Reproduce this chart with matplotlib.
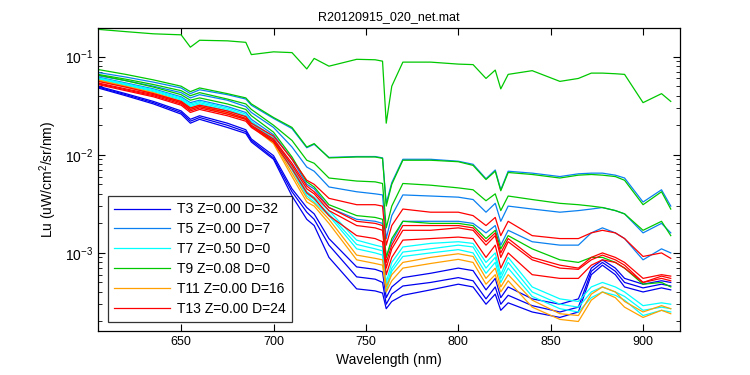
import numpy as np
import matplotlib
matplotlib.use("Agg")
import matplotlib.pyplot as plt

plt.rcParams['font.family'] = ['Liberation Sans', 'DejaVu Sans']
plt.rcParams['mathtext.fontset'] = 'custom'
plt.rcParams['mathtext.rm'] = 'Liberation Sans'

# wavelength grid (nm)
wl = [605, 620, 635, 650, 655, 660, 675, 685, 688, 700, 710, 718, 722, 730, 745,
      755, 759, 761, 764, 770, 785, 800, 808, 815, 820, 823, 827, 840, 855, 865,
      872, 878, 885, 890, 900, 910, 915]

# T3 (blue)
t3_a = [0.05, 0.042, 0.035, 0.028, 0.023, 0.025, 0.021, 0.018, 0.0145, 0.0098, 0.0045, 0.0029, 0.0025, 0.0014, 0.00072,
        0.00068, 0.00064, 0.00035, 0.00045, 0.00056, 0.00062, 0.0007, 0.00066, 0.00042, 0.00055, 0.00035, 0.00045, 0.00034, 0.0003, 0.00034,
        0.0007, 0.00085, 0.0007, 0.00055, 0.00048, 0.00052, 0.0005]
t3_b = [0.049, 0.041, 0.034, 0.027, 0.022, 0.024, 0.02, 0.0172, 0.014, 0.0093, 0.0042, 0.0026, 0.0022, 0.0012, 0.00057,
        0.00054, 0.0005, 0.0003, 0.00038, 0.00046, 0.0005, 0.00056, 0.00052, 0.00034, 0.00045, 0.0003, 0.00037, 0.00029, 0.00025, 0.00028,
        0.00065, 0.0008, 0.00065, 0.0005, 0.00044, 0.00048, 0.00046]
t3_c = [0.048, 0.04, 0.033, 0.026, 0.021, 0.023, 0.019, 0.0165, 0.0135, 0.009, 0.0038, 0.0022, 0.0019, 0.0009, 0.00043,
        0.00041, 0.00039, 0.00027, 0.00032, 0.00037, 0.00042, 0.00048, 0.00045, 0.0003, 0.00038, 0.00026, 0.00031, 0.00025, 0.00022, 0.00025,
        0.0006, 0.00075, 0.0006, 0.00045, 0.0004, 0.00044, 0.00042]

# T5 (light blue)
t5_a = [0.069, 0.062, 0.055, 0.048, 0.042, 0.046, 0.041, 0.037, 0.032, 0.0235, 0.0185, 0.0118, 0.0128, 0.0094, 0.0096,
        0.0096, 0.0093, 0.0032, 0.0052, 0.009, 0.009, 0.0086, 0.008, 0.0057, 0.007, 0.0044, 0.0068, 0.0065, 0.006, 0.0064,
        0.0065, 0.0065, 0.0062, 0.0058, 0.0033, 0.0044, 0.003]
t5_b = [0.064, 0.057, 0.05, 0.043, 0.038, 0.041, 0.036, 0.031, 0.027, 0.019, 0.012, 0.0075, 0.0068, 0.0047, 0.0042,
        0.004, 0.0039, 0.0014, 0.0024, 0.0039, 0.0038, 0.0037, 0.0035, 0.0026, 0.0032, 0.0021, 0.003, 0.0028, 0.0026, 0.0027,
        0.0028, 0.0029, 0.0027, 0.0025, 0.0016, 0.002, 0.0016]
t5_c = [0.062, 0.054, 0.047, 0.039, 0.034, 0.036, 0.031, 0.027, 0.023, 0.016, 0.009, 0.005, 0.0045, 0.0029, 0.0022,
        0.0021, 0.002, 0.0009, 0.0013, 0.0021, 0.0021, 0.0021, 0.002, 0.0016, 0.0019, 0.0012, 0.0017, 0.0013, 0.0012, 0.0012,
        0.0016, 0.0018, 0.0016, 0.0014, 0.00085, 0.0011, 0.001]

# T7 (cyan)
t7_a = [0.061, 0.053, 0.046, 0.038, 0.033, 0.035, 0.03, 0.026, 0.022, 0.015, 0.0075, 0.0042, 0.0037, 0.0027, 0.00135,
        0.0012, 0.00115, 0.0005, 0.0008, 0.00115, 0.00125, 0.0013, 0.00125, 0.0008, 0.001, 0.0006, 0.0009, 0.00045, 0.00034, 0.00032,
        0.00045, 0.0005, 0.00045, 0.0004, 0.00029, 0.00031, 0.0003]
t7_b = [0.06, 0.052, 0.045, 0.037, 0.032, 0.034, 0.029, 0.025, 0.0215, 0.0145, 0.0072, 0.004, 0.0035, 0.0025, 0.00122,
        0.0011, 0.00105, 0.00045, 0.0007, 0.00102, 0.0011, 0.0012, 0.00115, 0.0007, 0.0009, 0.00055, 0.0008, 0.0004, 0.0003, 0.00028,
        0.0004, 0.00045, 0.0004, 0.00036, 0.00026, 0.00028, 0.00027]
t7_c = [0.059, 0.051, 0.044, 0.036, 0.031, 0.033, 0.028, 0.0245, 0.021, 0.014, 0.007, 0.0038, 0.0033, 0.0024, 0.0011,
        0.001, 0.00095, 0.0004, 0.00065, 0.00092, 0.001, 0.00108, 0.001, 0.00062, 0.0008, 0.0005, 0.0007, 0.00036, 0.00027, 0.00025,
        0.00035, 0.0004, 0.00037, 0.00033, 0.00023, 0.00026, 0.00025]

# T9 (green)
t9_a = [0.19, 0.18, 0.171, 0.167, 0.125, 0.147, 0.145, 0.14, 0.105, 0.112, 0.11, 0.075, 0.096, 0.08, 0.094,
        0.093, 0.09, 0.021, 0.05, 0.088, 0.088, 0.084, 0.083, 0.06, 0.073, 0.047, 0.066, 0.072, 0.056, 0.06,
        0.068, 0.068, 0.067, 0.066, 0.034, 0.042, 0.035]
t9_b = [0.074, 0.066, 0.058, 0.05, 0.044, 0.048, 0.042, 0.038, 0.033, 0.024, 0.019, 0.012, 0.013, 0.0093, 0.0095,
        0.0095, 0.0092, 0.003, 0.005, 0.0088, 0.0088, 0.0085, 0.0078, 0.0056, 0.0068, 0.0043, 0.0066, 0.0063, 0.0058, 0.0062,
        0.0063, 0.0062, 0.006, 0.0055, 0.0031, 0.0042, 0.0028]
t9_c = [0.066, 0.059, 0.052, 0.045, 0.04, 0.043, 0.037, 0.033, 0.029, 0.02, 0.014, 0.0088, 0.0082, 0.0058, 0.0054,
        0.0053, 0.0051, 0.0018, 0.003, 0.0051, 0.0049, 0.0046, 0.0044, 0.0034, 0.004, 0.0027, 0.0038, 0.0035, 0.0032, 0.0031,
        0.003, 0.0029, 0.0027, 0.0025, 0.0017, 0.0021, 0.0015]
t9_d = [0.065, 0.057, 0.049, 0.041, 0.036, 0.038, 0.033, 0.029, 0.025, 0.017, 0.0095, 0.0053, 0.0047, 0.0031, 0.0024,
        0.0023, 0.0022, 0.0009, 0.0014, 0.0021, 0.002, 0.002, 0.0019, 0.0014, 0.0017, 0.0011, 0.0015, 0.0011, 0.00085, 0.0008,
        0.0009, 0.0009, 0.0008, 0.0007, 0.00048, 0.0005, 0.00045]

# T11 (orange)
t11_a = [0.058, 0.05, 0.043, 0.035, 0.03, 0.032, 0.027, 0.0235, 0.02, 0.0135, 0.0065, 0.0036, 0.0032, 0.0022, 0.00095,
         0.00088, 0.00085, 0.00045, 0.0006, 0.0008, 0.0009, 0.00098, 0.00092, 0.00055, 0.0007, 0.00045, 0.0006, 0.00033, 0.00024, 0.00023,
         0.00038, 0.00045, 0.0004, 0.00032, 0.00025, 0.00029, 0.00027]
t11_b = [0.057, 0.049, 0.042, 0.034, 0.029, 0.031, 0.026, 0.0228, 0.0195, 0.013, 0.006, 0.0033, 0.003, 0.002, 0.00085,
         0.00078, 0.00075, 0.0004, 0.00052, 0.0007, 0.00078, 0.00086, 0.0008, 0.00048, 0.0006, 0.0004, 0.00052, 0.00028, 0.00021, 0.0002,
         0.00033, 0.0004, 0.00035, 0.00028, 0.00022, 0.00026, 0.00024]

# T13 (red)
t13_a = [0.056, 0.049, 0.042, 0.035, 0.03, 0.032, 0.028, 0.0245, 0.021, 0.0155, 0.009, 0.0055, 0.005, 0.0036, 0.0031,
         0.0031, 0.003, 0.0012, 0.0019, 0.0028, 0.0026, 0.0026, 0.0024, 0.0019, 0.0023, 0.0015, 0.0021, 0.0015, 0.0014, 0.0014,
         0.0016, 0.0017, 0.0016, 0.0014, 0.00092, 0.001, 0.00088]
t13_b = [0.054, 0.047, 0.041, 0.034, 0.029, 0.031, 0.027, 0.0235, 0.02, 0.0145, 0.0082, 0.0048, 0.0042, 0.0029, 0.0021,
         0.002, 0.0019, 0.0008, 0.0012, 0.0019, 0.0019, 0.0019, 0.0018, 0.0013, 0.0016, 0.001, 0.0014, 0.0009, 0.00075, 0.0007,
         0.0009, 0.001, 0.0009, 0.0008, 0.00055, 0.0006, 0.00058]
t13_c = [0.053, 0.046, 0.04, 0.033, 0.028, 0.03, 0.026, 0.023, 0.0195, 0.014, 0.0078, 0.0045, 0.004, 0.0027, 0.0019,
         0.0018, 0.0017, 0.0007, 0.0011, 0.0017, 0.0017, 0.0018, 0.0017, 0.0012, 0.0015, 0.0009, 0.0013, 0.00085, 0.0007, 0.00068,
         0.00085, 0.00095, 0.00085, 0.00075, 0.0005, 0.00058, 0.00055]
t13_d = [0.052, 0.045, 0.039, 0.032, 0.027, 0.029, 0.025, 0.022, 0.019, 0.0135, 0.0072, 0.0041, 0.0036, 0.0024, 0.0015,
         0.0014, 0.0013, 0.0006, 0.0009, 0.00135, 0.0014, 0.00145, 0.0014, 0.0009, 0.0012, 0.0007, 0.001, 0.0006, 0.00055, 0.00055,
         0.00075, 0.00085, 0.0008, 0.0007, 0.0005, 0.00055, 0.00052]

labels = ['T3 Z=0.00 D=32', 'T5 Z=0.00 D=7', 'T7 Z=0.50 D=0',
          'T9 Z=0.08 D=0', 'T11 Z=0.00 D=16', 'T13 Z=0.00 D=24']
colors = ['#0000f0', '#0a80f0', '#00ffff', '#00c800', '#ffa000', '#ff0000']
groups = [[t3_a, t3_b, t3_c], [t5_a, t5_b, t5_c], [t7_a, t7_b, t7_c],
          [t9_a, t9_b, t9_c, t9_d], [t11_a, t11_b], [t13_a, t13_b, t13_c, t13_d]]

fig = plt.figure(figsize=(7.5, 3.75), dpi=100)
ax = fig.add_axes([98/750, 44/375, 582/750, 303/375])

handles = []
for lab, col, grp in zip(labels, colors, groups):
    for k, s in enumerate(grp):
        h, = ax.plot(wl, s, color=col, lw=0.9, label=lab if k == 0 else None)
        if k == 0:
            handles.append(h)

ax.set_yscale('log')
ax.set_xlim(605, 920)
ax.set_ylim(1.6e-4, 0.196)
ax.set_xticks([650, 700, 750, 800, 850, 900])
ax.tick_params(which='both', direction='in', top=True, right=True, labelsize=9)
ax.tick_params(axis='y', which='major', labelsize=10)
ax.tick_params(which='major', length=5)
ax.tick_params(which='minor', length=3)
for sp in ax.spines.values():
    sp.set_linewidth(0.9)

ax.set_xlabel('Wavelength (nm)', fontsize=10)
ax.set_ylabel('Lu (uW/cm$^2$/sr/nm)', fontsize=10)
ax.set_title('R20120915_020_net.mat', fontsize=9, pad=6)

leg = ax.legend(handles=handles, loc='lower left', bbox_to_anchor=(0.017, 0.03),
                fontsize=10, frameon=True, fancybox=False, handlelength=4.0,
                handletextpad=0.55, labelspacing=0.42, borderaxespad=0,
                borderpad=0.45)
leg.get_frame().set_edgecolor('black')
leg.get_frame().set_linewidth(0.9)

fig.savefig('out.png', dpi=100)
